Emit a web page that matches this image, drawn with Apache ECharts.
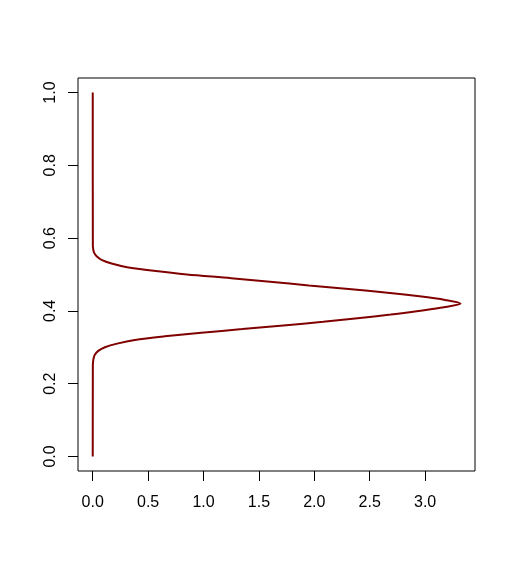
<!DOCTYPE html>
<html>
<head>
<meta charset="utf-8">
<script src="https://cdn.jsdelivr.net/npm/echarts@6/dist/echarts.min.js"></script>
<style>
  html, body { margin: 0; padding: 0; background: #fff; }
  #chart { width: 516px; height: 570px; }
</style>
</head>
<body>
<div id="chart"></div>
<script>
// density curve, drawn sideways: density on x, value on y
const valueY = [
  0, 0.25, 0.26, 0.27, 0.28, 0.29, 0.30, 0.31, 0.32, 0.33, 0.34, 0.35, 0.36, 0.37,
  0.38, 0.39, 0.40, 0.41, 0.42, 0.43, 0.44, 0.45, 0.46, 0.47, 0.48, 0.49, 0.50,
  0.51, 0.52, 0.53, 0.54, 0.55, 0.56, 0.57, 0.58, 1.0
];
const densityX = [
  0, 0.001, 0.003, 0.008, 0.02, 0.05, 0.11, 0.22, 0.38, 0.65, 0.98, 1.35, 1.72, 2.08,
  2.39, 2.69, 2.94, 3.17, 3.32, 3.18, 2.95, 2.66, 2.31, 1.95, 1.6, 1.25, 0.85,
  0.55, 0.31, 0.17, 0.08, 0.035, 0.012, 0.004, 0.001, 0
];
const xTicks = [0, 0.5, 1, 1.5, 2, 2.5, 3];
const yTicks = [0, 0.2, 0.4, 0.6, 0.8, 1];

const chart = echarts.init(document.getElementById("chart"));

const textStyle = {
  color: "#000",
  fontFamily: "Liberation Sans, Arial, sans-serif",
  fontSize: 16,
};

chart.setOption({
  animation: false,
  grid: {
    left: 78,
    right: 41,
    top: 78,
    bottom: 99,
    show: true,
    borderColor: "#000",
    borderWidth: 1,
    backgroundColor: "#fff",
  },
  xAxis: {
    type: "value",
    min: -0.133,
    max: 3.45,
    axisLine: { show: false, onZero: false },
    splitLine: { show: false },
    axisTick: {
      show: true,
      customValues: xTicks,
      length: 10,
      lineStyle: { color: "#000" },
    },
    axisLabel: {
      customValues: xTicks,
      margin: 24,
      formatter: (v) => v.toFixed(1),
      ...textStyle,
    },
  },
  yAxis: {
    type: "value",
    min: -0.04,
    max: 1.04,
    axisLine: { show: false, onZero: false },
    splitLine: { show: false },
    axisTick: {
      show: true,
      customValues: yTicks,
      length: 10,
      lineStyle: { color: "#000" },
    },
    axisLabel: {
      customValues: yTicks,
      rotate: 90,
      margin: 19,
      formatter: (v) => v.toFixed(1),
      ...textStyle,
    },
  },
  series: [
    {
      type: "line",
      data: densityX.map((d, i) => [d, valueY[i]]),
      showSymbol: false,
      smooth: 0.3,
      lineStyle: { color: "#800000", width: 2 },
    },
  ],
});
</script>
</body>
</html>
